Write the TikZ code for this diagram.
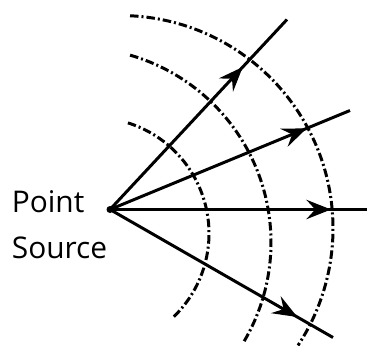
\documentclass[tikz,border=0pt]{standalone}
\usepackage{fontspec}
\setmainfont{Open Sans}
\usepackage{tikz}
\usetikzlibrary{arrows.meta,decorations.markings}

\begin{document}
\begin{tikzpicture}[
  src/.style={circle, fill, inner sep=0pt, minimum size=0.14cm},
  ray/.style={line width=1.7pt, postaction={decorate},
              decoration={markings, mark=at position #1 with
              {\arrow{Stealth[length=14pt,width=11pt,inset=5pt]}}}},
  front/.style={line width=1.7pt, dash pattern=on 0.17cm off 0.06cm on 0.04cm off 0.06cm},
  lbl/.style={font=\fontsize{17}{26}\selectfont, align=left, inner sep=0pt}
]
  \useasboundingbox (-2.2,-2.71) rectangle (5.14,4.19);

  % Nodes
  \node[src] (S) at (0,0) {};
  \node[lbl, anchor=west] (txt) at (-1.97,-0.3) {Point\\Source};

  \coordinate (r1) at (3.54,3.80);
  \coordinate (r2) at (4.80,1.98);
  \coordinate (r3) at (5.14,0);
  \coordinate (r4) at (4.46,-2.56);

  % Wave fronts
  \draw[front] (-0.34,-0.48) ++(72.5:2.32) arc (72.5:-47:2.32);
  \draw[front] (-0.68,-0.66) ++(73.9:3.9) arc (73.9:-31.2:3.9);
  \draw[front] (0.2,-0.38) ++(87.3:4.26) arc (87.3:-33.3:4.26);

  % Rays
  \draw[ray=0.75] (S.center) -- (r1);
  \draw[ray=0.82] (S.center) -- (r2);
  \draw[ray=0.86] (S.center) -- (r3);
  \draw[ray=0.84] (S.center) -- (r4);
\end{tikzpicture}
\end{document}
